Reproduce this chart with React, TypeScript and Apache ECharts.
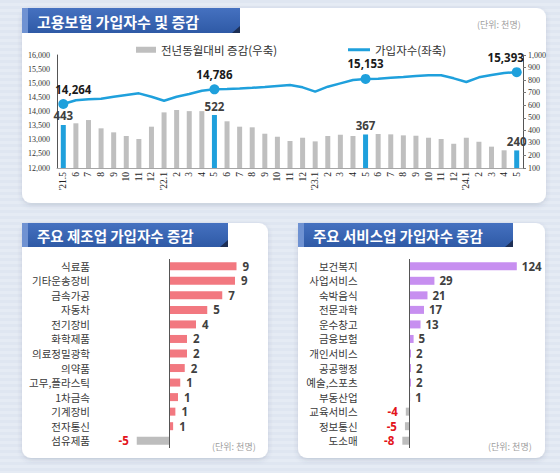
import React, { useEffect, useRef } from "react";
import * as echarts from "echarts";

const months = ["'21.5","6","7","8","9","10","11","12","'22.1","2","3","4","5","6","7","8","9","10","11","12","'23.1","2","3","4","5","6","7","8","9","10","11","12","'24.1","2","3","4","5"];
const subscribers = [14264,14396,14432,14453,14524,14584,14643,14524,14382,14524,14619,14737,14786,14795,14815,14840,14870,14905,14938,14855,14702,14879,14997,15115,15153,15162,15197,15221,15257,15280,15280,15174,15044,15209,15292,15363,15393];
const yoyChange = [443,456,482,416,384,355,331,429,543,562,553,553,522,472,429,424,373,349,315,341,312,355,365,355,367,371,368,360,357,341,331,293,341,309,270,241,240];
const highlightIdx = [0, 12, 24, 36];

const mfgCats = ["식료품","기타운송장비","금속가공","자동차","전기장비","화학제품","의료정밀광학","의약품","고무,플라스틱","1차금속","기계장비","전자통신","섬유제품"];
const mfgValues = [9.0, 8.8, 7.1, 5.1, 3.6, 2.4, 2.4, 2.1, 1.5, 1.2, 0.85, 0.55, -4.3];
const mfgLabels = ["9","9","7","5","4","2","2","2","1","1","1","1","-5"];

const svcCats = ["보건복지","사업서비스","숙박음식","전문과학","운수창고","금융보험","개인서비스","공공행정","예술,스포츠","부동산업","교육서비스","정보통신","도소매"];
const svcValues = [124, 29, 21, 17, 13, 5, 2, 2, 2, 1, -4, -5, -8];

const BLUE = "#1fa0dc";
const KFONT = "'Noto Sans CJK KR', 'Noto Sans', sans-serif";
const SERIF = "'Liberation Serif', 'DejaVu Serif', serif";

function titleBar(x: number, y: number, w: number, h: number, text: string, fs: number) {
  return {
    type: "group",
    x, y,
    children: [
      { type: "rect", shape: { x: 0, y: 0, width: w, height: h },
        style: { fill: new echarts.graphic.LinearGradient(0, 0, 0, 1, [
          { offset: 0, color: "#4571c0" }, { offset: 1, color: "#2f5aa6" }]) } },
      { type: "rect", shape: { x: 0, y: 0, width: 6, height: h }, style: { fill: "#6f92d2" } },
      { type: "polygon", shape: { points: [[w - 8, h], [w, h - 7], [w, h]] }, style: { fill: "#1d2f55" } },
      { type: "text", x: 15, y: h / 2 + 0.5, style: { text, fill: "#fff", font: `bold ${fs}px ${KFONT}`, verticalAlign: "middle" } },
    ],
  };
}

function panel(x: number, y: number, w: number, h: number) {
  return { type: "rect", shape: { x, y, width: w, height: h, r: 9 },
    style: { fill: "#ffffff", shadowBlur: 5, shadowColor: "rgba(60,70,100,0.18)", shadowOffsetY: 2 } };
}

export default function App() {
  const ref = useRef<HTMLDivElement>(null);
  useEffect(() => {
    if (!ref.current) return;
    const chart = echarts.init(ref.current, undefined, { renderer: "svg" });
    const hl = new Set(highlightIdx);

    const barData = yoyChange.map((v, i) => hl.has(i)
      ? { value: v, itemStyle: { color: BLUE }, label: { show: true } }
      : { value: v });
    const lineData = subscribers.map((v, i) => {
      if (!hl.has(i)) return { value: v };
      const off = i === 0 ? [10, 0] : i === months.length - 1 ? [-11, 0] : [0, 0];
      return { value: v, symbol: "circle", symbolSize: 10, label: { show: true, offset: off } };
    });

    const labelRich = {
      fontFamily: "'Noto Sans', sans-serif", fontWeight: "bold", fontSize: 11.5, lineHeight: 12, color: "#404040",
    };

    const option: any = {
      animation: false,
      backgroundColor: "transparent",
      textStyle: { fontFamily: KFONT },
      graphic: { elements: [
        panel(22, 8, 524, 195),
        panel(22, 223, 246, 235),
        panel(298, 223, 247, 235),
        titleBar(22, 8, 218, 25, "고용보험 가입자수 및 증감", 15),
        titleBar(22, 223, 206, 24, "주요 제조업 가입자수 증감", 14.5),
        titleBar(298, 223, 215, 24, "주요 서비스업 가입자수 증감", 14.5),
        { type: "text", x: 477, y: 24, style: { text: "(단위: 천명)", fill: "#a0a0a0", font: `9px ${KFONT}`, verticalAlign: "middle" } },
        { type: "text", x: 212, y: 446, style: { text: "(단위: 천명)", fill: "#a0a0a0", font: `9px ${KFONT}`, verticalAlign: "middle" } },
        { type: "text", x: 488, y: 446, style: { text: "(단위: 천명)", fill: "#a0a0a0", font: `9px ${KFONT}`, verticalAlign: "middle" } },
      ] },
      legend: [
        { data: ["전년동월대비 증감(우축)"], left: 131, top: 39, icon: "rect", itemWidth: 20, itemHeight: 6, itemGap: 4,
          textStyle: { fontSize: 11.5, color: "#333", fontFamily: KFONT } },
        { data: ["가입자수(좌축)"], left: 343, top: 39, icon: "rect", itemWidth: 22, itemHeight: 3,
          textStyle: { fontSize: 11.5, color: "#333", fontFamily: KFONT } },
      ],
      grid: [
        { left: 57, right: 37, top: 55, bottom: 305 },
        { left: 124, right: 316, top: 259, bottom: 25 },
        { left: 400.6, right: 38, top: 259, bottom: 25 },
      ],
      xAxis: [
        { type: "category", gridIndex: 0, data: months, boundaryGap: true,
          axisLine: { show: true, lineStyle: { color: "#a6a6a6" } }, axisTick: { show: false },
          axisLabel: { rotate: 90, interval: 0, fontSize: 9.5, fontFamily: SERIF, color: "#222", margin: 4 } },
        { type: "value", gridIndex: 1, min: -6, max: 10, show: false },
        { type: "value", gridIndex: 2, min: -10, max: 130, show: false },
      ],
      yAxis: [
        { type: "value", gridIndex: 0, min: 12000, max: 16000, interval: 500, position: "left",
          axisLine: { show: true, lineStyle: { color: "#555" } }, axisTick: { show: false }, splitLine: { show: false },
          axisLabel: { fontSize: 8, fontFamily: SERIF, color: "#333", margin: 7,
            formatter: (v: number) => v.toLocaleString("en-US") } },
        { type: "value", gridIndex: 0, min: 100, max: 1000, interval: 100, position: "right",
          axisLine: { show: true, lineStyle: { color: "#555" } }, axisTick: { show: true, length: 3, lineStyle: { color: "#777" } },
          splitLine: { show: false },
          axisLabel: { fontSize: 8, fontFamily: SERIF, color: "#333", margin: 5,
            formatter: (v: number) => v.toLocaleString("en-US") } },
        { type: "category", gridIndex: 1, data: mfgCats, inverse: true,
          axisLine: { show: false, onZero: false }, axisTick: { show: false },
          axisLabel: { fontSize: 10.5, lineHeight: 13, color: "#3a3a3a", fontFamily: KFONT, margin: 34 } },
        { type: "category", gridIndex: 2, data: svcCats, inverse: true,
          axisLine: { show: false, onZero: false }, axisTick: { show: false },
          axisLabel: { fontSize: 10.5, lineHeight: 13, color: "#3a3a3a", fontFamily: KFONT, margin: 43 } },
      ],
      series: [
        { name: "전년동월대비 증감(우축)", type: "bar", xAxisIndex: 0, yAxisIndex: 1, barWidth: 5,
          itemStyle: { color: "#bfbfbf" }, data: barData,
          label: { show: false, position: "top", distance: 3, ...labelRich } },
        { name: "가입자수(좌축)", type: "line", xAxisIndex: 0, yAxisIndex: 0, data: lineData,
          symbol: "none", showSymbol: true, showAllSymbol: true, color: BLUE,
          lineStyle: { color: BLUE, width: 2.5 }, itemStyle: { color: BLUE },
          label: { show: false, position: "top", distance: 4, fontFamily: "'Noto Sans', sans-serif",
            fontWeight: "bold", fontSize: 11.5, color: "#1a1a1a", formatter: (p: any) => p.value.toLocaleString("en-US") },
          z: 5 },
        { type: "bar", xAxisIndex: 1, yAxisIndex: 2, barWidth: 8,
          data: mfgValues.map((v, i) => ({ value: v,
            itemStyle: { color: v >= 0 ? "#f27880" : "#bdbdbd" },
            label: v >= 0
              ? { show: true, position: "right", distance: 6, formatter: mfgLabels[i], ...labelRich }
              : { show: true, position: "left", distance: 8, formatter: mfgLabels[i], ...labelRich, color: "#e3141b" } })),
          markLine: { silent: true, symbol: ["none", "none"], label: { show: false },
            lineStyle: { color: "#555", width: 1, type: "solid" }, data: [{ xAxis: 0 }] } },
        { type: "bar", xAxisIndex: 2, yAxisIndex: 3, barWidth: 8,
          data: svcValues.map((v) => ({ value: v,
            itemStyle: { color: v >= 0 ? "#c78ff0" : "#bdbdbd" },
            label: v >= 0
              ? { show: true, position: "right", distance: 5, formatter: String(v), ...labelRich }
              : { show: true, position: "left", distance: 8, formatter: String(v), ...labelRich, color: "#e3141b" } })),
          markLine: { silent: true, symbol: ["none", "none"], label: { show: false },
            lineStyle: { color: "#555", width: 1, type: "solid" }, data: [{ xAxis: 0 }] } },
      ],
    };
    chart.setOption(option);
    return () => chart.dispose();
  }, []);
  return (
    <div
      ref={ref}
      style={{
        position: "fixed", left: 0, top: 0, width: 560, height: 473,
        background: "repeating-linear-gradient(180deg, #dfe6f1 0px, #dfe6f1 3px, #e5ebf4 3px, #e5ebf4 6px)",
      }}
    />
  );
}
